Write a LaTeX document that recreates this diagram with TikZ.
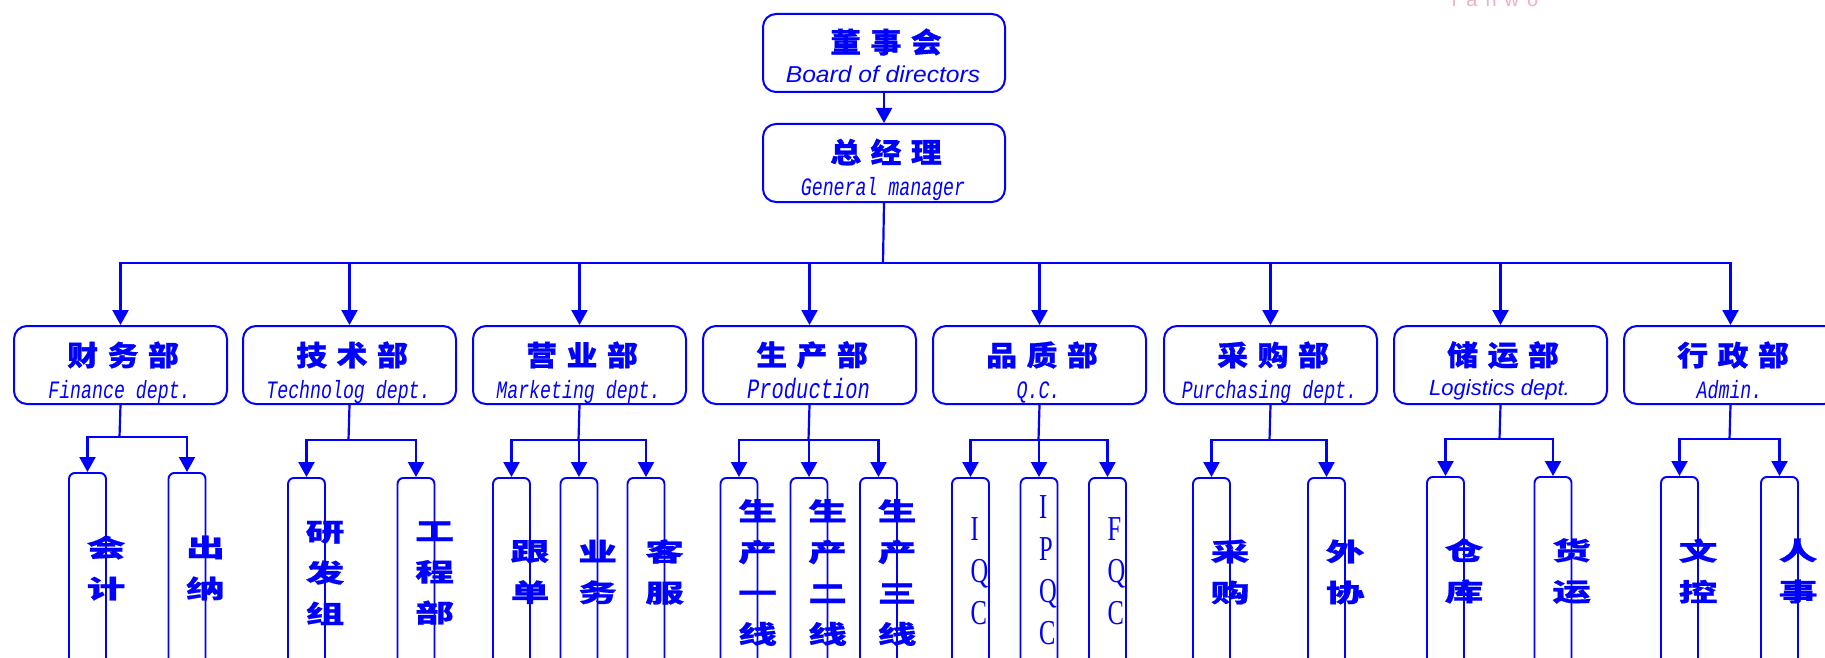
\documentclass[tikz,border=0pt]{standalone}
\usepackage{fontspec}
\usetikzlibrary{arrows.meta}
\setmainfont{Liberation Serif}
\newfontfamily\cjkT{Noto Sans CJK SC}[FakeStretch=1.1,LetterSpace=34,FakeBold=1]
\newfontfamily\cjkS{Noto Sans CJK SC}[FakeStretch=1.55,FakeBold=0.8]
\newfontfamily\monoI{Liberation Mono}[FakeStretch=0.73]
\newfontfamily\sansW{Liberation Sans}[FakeStretch=1.07]
\newfontfamily\sansN{Liberation Sans}
\newfontfamily\serifN{Liberation Serif}[FakeStretch=0.7]
\newfontfamily\wmfont{Liberation Sans}[LetterSpace=40]
\definecolor{bl}{RGB}{0,0,255}
\definecolor{wm}{RGB}{238,175,190}
\tikzset{
  line/.style={draw=bl, line width=2.2pt},
  arr/.style={line, -{Triangle[width=16pt,length=15pt]}},
  topbox/.style={draw=bl, line width=2pt, rounded corners=13pt, minimum width=242pt, minimum height=78pt, inner sep=0, anchor=north west},
  dept/.style={draw=bl, line width=2pt, rounded corners=13pt, minimum width=213pt, minimum height=78pt, inner sep=0, anchor=north west},
  subbox/.style={draw=bl, line width=1.9pt, rounded corners=6pt, minimum width=37pt, minimum height=210pt, anchor=north, inner sep=0},
  ttl/.style={text=bl, font=\cjkT\bfseries\fontsize{28}{30}\selectfont, inner sep=0},
  mono/.style={text=bl, font=\monoI\itshape\fontsize{25}{28}\selectfont, inner sep=0, anchor=base},
  stk/.style={text=bl, font=\cjkS\bfseries\fontsize{25}{41}\selectfont, align=left, anchor=west, inner sep=0},
  ltr/.style={text=bl, font=\serifN\fontsize{35}{42}\selectfont, align=left, anchor=west, inner sep=0}
}
\begin{document}
\begin{tikzpicture}[x=1pt,y=-1pt]
\useasboundingbox (0,0) rectangle (1825,658);
% watermark (cut off at the top edge, as in the reference)
\node[text=wm, font=\wmfont\fontsize{20}{20}\selectfont, anchor=base, inner sep=0] (wmk) at (1495,7) {ranwo};
% top boxes
\node[topbox] (board) at (762,13) {};
\node[topbox] (gm) at (762,123) {};
\node[ttl] (boardT) at (886,42) {董事会};
\node[text=bl, font=\sansW\itshape\fontsize{23}{26}\selectfont, anchor=base, inner sep=0] (boardE) at (883,83) {Board of directors};
\node[ttl] (gmT) at (886,152) {总经理};
\node[mono] (gmE) at (883,195) {General manager};
\draw[arr] (board.south) -- (gm.north);
\coordinate (hub) at (883,263);
\draw[line] (gm.south) -- (hub);
% departments
\foreach \i/\x in {1/13,2/242,3/472,4/702,5/932,6/1163,7/1393,8/1623}{
  \node[dept] (d\i) at (\x,325) {};
  \draw[arr] (hub) -| (d\i.north);
}
\node[ttl] (t1) at (123,355) {财务部};
\node[ttl] (t2) at (352,355) {技术部};
\node[ttl] (t3) at (582,355) {营业部};
\node[ttl] (t4) at (812,355) {生产部};
\node[ttl] (t5) at (1042,355) {品质部};
\node[ttl] (t6) at (1273,355) {采购部};
\node[ttl] (t7) at (1503,355) {储运部};
\node[ttl] (t8) at (1733,355) {行政部};
\node[mono] (e1) at (119.5,398) {Finance dept.};
\node[mono] (e2) at (348.5,398) {Technolog dept.};
\node[mono] (e3) at (578.5,398) {Marketing dept.};
\node[mono, font=\monoI\itshape\fontsize{28}{30}\selectfont] (e4) at (808.5,398) {Production};
\node[mono] (e5) at (1038.5,398) {Q.C.};
\node[mono] (e6) at (1269.5,398) {Purchasing dept.};
\node[text=bl, font=\sansN\itshape\fontsize{22}{24}\selectfont, anchor=base, inner sep=0] (e7) at (1499.5,395) {Logistics dept.};
\node[mono] (e8) at (1729.5,398) {Admin.};
% branch points
\coordinate (b1) at (119.5,437);
\coordinate (b2) at (348.5,440);
\coordinate (b3) at (578.5,440);
\coordinate (b4) at (808.5,440);
\coordinate (b5) at (1038.5,440);
\coordinate (b6) at (1269.5,440);
\coordinate (b7) at (1499.5,439);
\coordinate (b8) at (1729.5,439);
\foreach \i in {1,...,8}{\draw[line] (d\i.south) -- (b\i);}
% sub boxes
\node[subbox] (s11) at (87.5,472) {};
\node[subbox] (s12) at (187,472) {};
\node[subbox] (s21) at (306.5,477) {};
\node[subbox] (s22) at (416,477) {};
\node[subbox] (s31) at (511.5,477) {};
\node[subbox] (s32) at (579,477) {};
\node[subbox] (s33) at (646,477) {};
\node[subbox] (s41) at (739,477) {};
\node[subbox] (s42) at (809,477) {};
\node[subbox] (s43) at (878.5,477) {};
\node[subbox] (s51) at (970.5,477) {};
\node[subbox] (s52) at (1039,477) {};
\node[subbox] (s53) at (1107.5,477) {};
\node[subbox] (s61) at (1211.5,477) {};
\node[subbox] (s62) at (1326.5,477) {};
\node[subbox] (s71) at (1445.5,476) {};
\node[subbox] (s72) at (1553,476) {};
\node[subbox] (s81) at (1679.5,476) {};
\node[subbox] (s82) at (1779.5,476) {};
\foreach \s in {11,12}{\draw[arr] (b1) -| (s\s.north);}
\foreach \s in {21,22}{\draw[arr] (b2) -| (s\s.north);}
\foreach \s in {31,32,33}{\draw[arr] (b3) -| (s\s.north);}
\foreach \s in {41,42,43}{\draw[arr] (b4) -| (s\s.north);}
\foreach \s in {51,52,53}{\draw[arr] (b5) -| (s\s.north);}
\foreach \s in {61,62}{\draw[arr] (b6) -| (s\s.north);}
\foreach \s in {71,72}{\draw[arr] (b7) -| (s\s.north);}
\foreach \s in {81,82}{\draw[arr] (b8) -| (s\s.north);}
% sub texts (start at box centre, as printed)
\node[stk] (x11) at (86.5,568) {会\\计};
\node[stk] (x12) at (186,568) {出\\纳};
\node[stk] (x21) at (305.5,573) {研\\发\\组};
\node[stk] (x22) at (415,573) {工\\程\\部};
\node[stk] (x31) at (510.5,572) {跟\\单};
\node[stk] (x32) at (578,572) {业\\务};
\node[stk] (x33) at (645,572) {客\\服};
\node[stk] (x41) at (738,572.5) {生\\产\\一\\线};
\node[stk] (x42) at (808,572.5) {生\\产\\二\\线};
\node[stk] (x43) at (877.5,572.5) {生\\产\\三\\线};
\node[ltr] (x51) at (970.5,571) {I\\Q\\C};
\node[ltr] (x52) at (1039,570.5) {I\\P\\Q\\C};
\node[ltr] (x53) at (1107.5,571) {F\\Q\\C};
\node[stk] (x61) at (1210.5,572) {采\\购};
\node[stk] (x62) at (1325.5,572) {外\\协};
\node[stk] (x71) at (1444.5,571) {仓\\库};
\node[stk] (x72) at (1552,571) {货\\运};
\node[stk] (x81) at (1678.5,571) {文\\控};
\node[stk] (x82) at (1778.5,571) {人\\事};
\end{tikzpicture}
\end{document}
